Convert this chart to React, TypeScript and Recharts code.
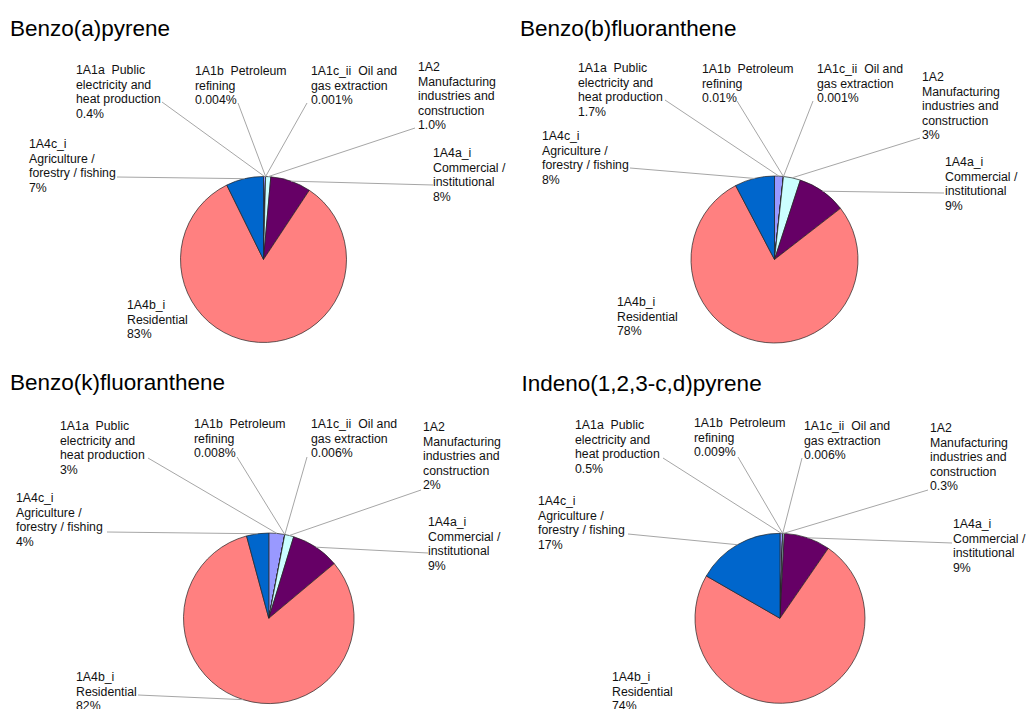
import React from "react";
import { PieChart, Pie, Cell } from "recharts";

const categories = [
  "1A1a  Public\nelectricity and\nheat production",
  "1A1b  Petroleum\nrefining",
  "1A1c_ii  Oil and\ngas extraction",
  "1A2\nManufacturing\nindustries and\nconstruction",
  "1A4a_i\nCommercial /\ninstitutional",
  "1A4b_i\nResidential",
  "1A4c_i\nAgriculture /\nforestry / fishing",
];

const colors = ["#9999FF", "#993366", "#FFFFCC", "#CCFFFF", "#660066", "#FF8080", "#0066CC"];

const titles = [
  "Benzo(a)pyrene",
  "Benzo(b)fluoranthene",
  "Benzo(k)fluoranthene",
  "Indeno(1,2,3-c,d)pyrene",
];

const valuesBaP = [0.4, 0.004, 0.001, 1.0, 7.9, 83.4, 7.3];
const valuesBbF = [1.7, 0.01, 0.001, 3.3, 9.5, 77.8, 7.7];
const valuesBkF = [3.0, 0.008, 0.006, 1.7, 9.2, 81.9, 4.2];
const valuesIcdP = [0.5, 0.009, 0.006, 0.3, 8.8, 73.7, 16.7];

const pctBaP = ["0.4%", "0.004%", "0.001%", "1.0%", "8%", "83%", "7%"];
const pctBbF = ["1.7%", "0.01%", "0.001%", "3%", "9%", "78%", "8%"];
const pctBkF = ["3%", "0.008%", "0.006%", "2%", "9%", "82%", "4%"];
const pctIcdP = ["0.5%", "0.009%", "0.006%", "0.3%", "9%", "74%", "17%"];

const allValues = [valuesBaP, valuesBbF, valuesBkF, valuesIcdP];
const allPct = [pctBaP, pctBbF, pctBkF, pctIcdP];

// layout: pie geometry, title position, label positions [textX, firstLineCenterY, leaderStartX, leaderStartY]
type LabelPos = [number, number, number | null, number | null];
const layouts: { cx: number; cy: number; r: number; tx: number; ty: number; labels: LabelPos[] }[] = [
  {
    cx: 263.5, cy: 259.5, r: 83, tx: 10, ty: 36.7,
    labels: [
      [76, 70, 162, 102],
      [195, 71, 238, 103],
      [311, 71, 307, 103],
      [418, 67, 415, 128],
      [433, 153, 433, 185],
      [127, 305, null, null],
      [29, 144, 117, 177],
    ],
  },
  {
    cx: 774.5, cy: 259.5, r: 83.5, tx: 520, ty: 36.7,
    labels: [
      [578, 68, 665, 100],
      [702, 69, 737, 101],
      [817, 69, 813, 101],
      [922, 77, 920, 138],
      [945, 162, 944, 193],
      [617, 302, null, null],
      [542, 136, 630, 168],
    ],
  },
  {
    cx: 268.8, cy: 618.3, r: 85.3, tx: 10, ty: 391,
    labels: [
      [60, 426, 148, 458],
      [194, 424, 237, 457],
      [311, 424, 307, 457],
      [423, 427, 421, 490],
      [428, 522, 428, 553],
      [76, 677, 138, 695],
      [16, 498, 107, 532],
    ],
  },
  {
    cx: 780, cy: 618.3, r: 85, tx: 521.5, ty: 391.7,
    labels: [
      [575, 425, 663, 458],
      [694, 423, 738, 457],
      [804, 426, 802, 458],
      [930, 428, 928, 490],
      [953, 524, 952, 543],
      [612, 677, null, null],
      [538, 501, 628, 534],
    ],
  },
];

const FONT = "'Liberation Sans', Arial, Helvetica, sans-serif";
const RAD = Math.PI / 180;
const LH = 14.4;
const FS = 12.3;
const TITLE_FS = 22.5;

function makeLabel(chartIdx: number) {
  const lay = layouts[chartIdx];
  const pct = allPct[chartIdx];
  return (props: any) => {
    const { cx, cy, midAngle, outerRadius, index } = props;
    const [tx, ty, lx, ly] = lay.labels[index];
    const lines = [...categories[index].split("\n"), pct[index]];
    const ex = cx + outerRadius * Math.cos(-midAngle * RAD);
    const ey = cy + outerRadius * Math.sin(-midAngle * RAD);
    return (
      <g key={`lbl-${chartIdx}-${index}`}>
        {lx !== null && ly !== null && (
          <line x1={lx} y1={ly} x2={ex} y2={ey} stroke="#a6a6a6" strokeWidth={1} />
        )}
        <text
          x={tx}
          y={ty + 4.4}
          fontSize={FS}
          fontFamily={FONT}
          fill="#111"
          style={{ whiteSpace: "pre" }}
        >
          {lines.map((l, i) => (
            <tspan key={i} x={tx} y={ty + 4.4 + i * LH}>
              {l}
            </tspan>
          ))}
        </text>
      </g>
    );
  };
}

export default function App() {
  const datasets = allValues.map((vals) =>
    vals.map((v, i) => ({ name: categories[i], value: v }))
  );
  return (
    <div style={{ position: "absolute", left: 0, top: 0, width: 1029, height: 709, background: "#fff" }}>
      <PieChart width={1029} height={709} margin={{ top: 0, left: 0, right: 0, bottom: 0 }}>
        {datasets.map((data, ci) => (
          <Pie
            key={ci}
            data={data}
            dataKey="value"
            nameKey="name"
            cx={layouts[ci].cx}
            cy={layouts[ci].cy}
            outerRadius={layouts[ci].r}
            startAngle={90}
            endAngle={-270}
            stroke="#222"
            strokeWidth={0.7}
            isAnimationActive={false}
            labelLine={false}
            label={makeLabel(ci)}
          >
            {data.map((_, i) => (
              <Cell key={i} fill={colors[i]} />
            ))}
          </Pie>
        ))}
      </PieChart>
      {titles.map((t, i) => (
        <div
          key={t}
          style={{
            position: "absolute",
            left: layouts[i].tx,
            top: layouts[i].ty - 0.8465 * TITLE_FS,
            fontFamily: FONT,
            fontSize: TITLE_FS,
            lineHeight: `${TITLE_FS}px`,
            color: "#000",
            whiteSpace: "nowrap",
          }}
        >
          {t}
        </div>
      ))}
    </div>
  );
}
